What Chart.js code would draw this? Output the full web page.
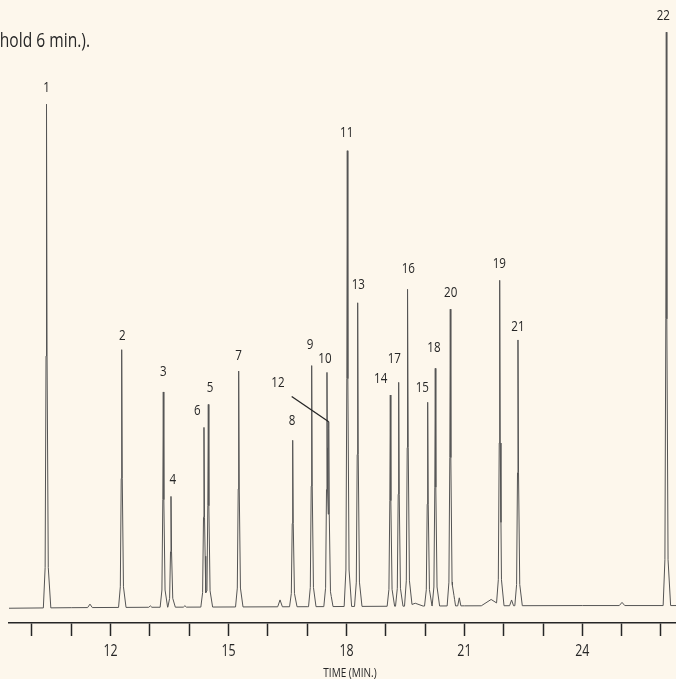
<!DOCTYPE html>
<html><head><meta charset="utf-8">
<script src="https://cdn.jsdelivr.net/npm/chart.js@4/dist/chart.umd.min.js"></script>
<style>html,body{margin:0;padding:0;background:#fdf7ec;overflow:hidden}canvas{display:block}</style>
</head><body>
<canvas id="c" width="676" height="679"></canvas>
<script>
// ---------- DATA ----------
const peakLabels  = ['1','2','3','4','6','5','7','8','9','10','12','11','13','14','17','16','15','18','20','19','21','22'];
const peakTimes   = [10.369,12.282,13.340,13.536,14.375,14.485,15.258,16.632,17.115,17.504,17.548,18.021,18.285,19.115,19.328,19.557,20.066,20.259,20.641,21.898,22.363,26.136];
const peakHeights = [87.75,44.9,37.5,19.3,31.3,35.3,41.1,29.0,42.0,40.8,32.2,79.4,52.9,36.8,39.0,55.2,35.5,41.4,51.7,56.7,46.3,99.9];
const minorTimes   = [11.475,13.01,13.89,16.31,19.75,20.735,20.87,21.68,22.20,25.01];
const minorHeights = [0.6,0.25,0.25,1.2,0.5,1.8,1.4,1.1,1.0,0.55];
const minorSpreads = [0.06,0.04,0.04,0.06,0.2,0.04,0.04,0.25,0.05,0.07];
const baseTimes  = [9.415,11,13,17,21,24,26.383];
const baseLevels = [-0.22,-0.12,-0.05,0.05,0.2,0.25,0.25];
const tickValues = [10,11,12,13,14,15,16,17,18,19,20,21,22,23,24,25,26];
const tickLabels = ['','','12','','','15','','','18','','','21','','','24','',''];
const axisTitle = 'TIME (MIN.)';
const captionText = 'hold 6 min.).';

// ---------- LAYOUT / STYLE ----------
const FONT = "'Open Sans','DejaVu Sans',sans-serif";
const SQUEEZE = 0.8;
const INK = '#262626';
const BG = '#fdf7ec';
const peakShape = [[-0.08,0],[-0.035,0.08],[-0.012,0.5],[0,1],[0.014,0.5],[0.045,0.08],[0.11,0]];
const labelOffsets = [[0,-16.6],[0.6,-14.3],[0,-20],[1.7,-17],[-6.6,-16.6],[1.7,-17],[0,-15.3],[-0.7,-19],[-1.7,-20.7],[-2,-14],[-50.7,-39.3],[-0.6,-18.3],[0.6,-18.3],[-9.6,-16],[-4.4,-23],[0.6,-20],[-5.4,-14.3],[-1.3,-20.3],[0.4,-16.7],[-0.4,-16],[0,-12.7],[-3,-16.6]];
const leaderLabel = '12';
const leaderFrom = [-37,-25.3];

function interp(xs, ys, t){
  if (t <= xs[0]) return ys[0];
  for (let i=1;i<xs.length;i++){
    if (t <= xs[i]) { const f=(t-xs[i-1])/(xs[i]-xs[i-1]); return ys[i-1]+f*(ys[i]-ys[i-1]); }
  }
  return ys[ys.length-1];
}
const features = [];
peakTimes.forEach((t,i)=>features.push({t, h:peakHeights[i], shape:peakShape}));
minorTimes.forEach((t,i)=>features.push({t, h:minorHeights[i], shape:[[-minorSpreads[i],0],[0,1],[minorSpreads[i],0]]}));
const knotSet = new Set(baseTimes);
features.forEach(f=>f.shape.forEach(p=>knotSet.add(+(f.t+p[0]).toFixed(4))));
const knots = [...knotSet].sort((a,b)=>a-b);
const trace = knots.map(t=>{
  let m = 0;
  features.forEach(f=>{
    const d = t - f.t;
    const sx = f.shape.map(p=>p[0]), sy = f.shape.map(p=>p[1]);
    if (d > sx[0] && d < sx[sx.length-1]) m = Math.max(m, f.h*interp(sx, sy, d));
  });
  return {x:t, y: interp(baseTimes, baseLevels, t) + m};
});

function narrowText(c, s, x, y, size, align){
  c.save();
  c.font = size + 'px ' + FONT;
  c.textAlign = align; c.textBaseline = 'middle';
  c.translate(x, y); c.scale(SQUEEZE, 1);
  c.fillText(s, 0, 0);
  c.restore();
}

const annot = {
  id:'annot',
  beforeDraw(chart){
    const c = chart.ctx; c.save(); c.fillStyle = BG; c.fillRect(0,0,chart.width,chart.height); c.restore();
  },
  afterDraw(chart){
    const c = chart.ctx, xs = chart.scales.x, ys = chart.scales.y;
    c.save();
    c.fillStyle = INK;
    peakLabels.forEach((lab,i)=>{
      const px = xs.getPixelForValue(peakTimes[i]);
      const py = ys.getPixelForValue(peakHeights[i] + interp(baseTimes, baseLevels, peakTimes[i]));
      const o = labelOffsets[i];
      narrowText(c, lab, px + o[0], py + o[1], 14.5, 'center');
      if (lab === leaderLabel){
        c.strokeStyle = INK; c.lineWidth = 1.3;
        c.beginPath(); c.moveTo(px + leaderFrom[0], py + leaderFrom[1]); c.lineTo(px, py); c.stroke();
      }
    });
    xs.ticks.forEach((tk,i)=>{
      if (tickLabels[i]) narrowText(c, tickLabels[i], xs.getPixelForValue(tk.value), 651.5, 15.5, 'center');
    });
    narrowText(c, axisTitle, 350, 673.5, 12.5, 'center');
    narrowText(c, captionText, 90, 41.5, 19.5, 'right');
    c.restore();
  }
};

new Chart(document.getElementById('c'), {
  type:'line',
  data:{ datasets:[{ data: trace, borderColor:'#555', borderWidth:1, pointRadius:0, tension:0, fill:false }] },
  options:{
    responsive:false, animation:false,
    layout:{ padding:{ left:9, right:0, top:0, bottom:0 } },
    plugins:{ legend:{display:false}, tooltip:{enabled:false} },
    scales:{
      x:{ type:'linear', min:9.415, max:26.383, position:'bottom',
        afterBuildTicks: s => { s.ticks = tickValues.map(v=>({value:v})); },
        afterFit: s => { s.height = 56; },
        grid:{ drawOnChartArea:false, drawTicks:true, tickLength:13, tickWidth:1.5, tickColor:INK },
        border:{ display:true, color:INK, width:1.5 },
        ticks:{ display:false }
      },
      y:{ display:false, min:-2.79, max:105.75 }
    }
  },
  plugins:[annot]
});
</script>
</body></html>
